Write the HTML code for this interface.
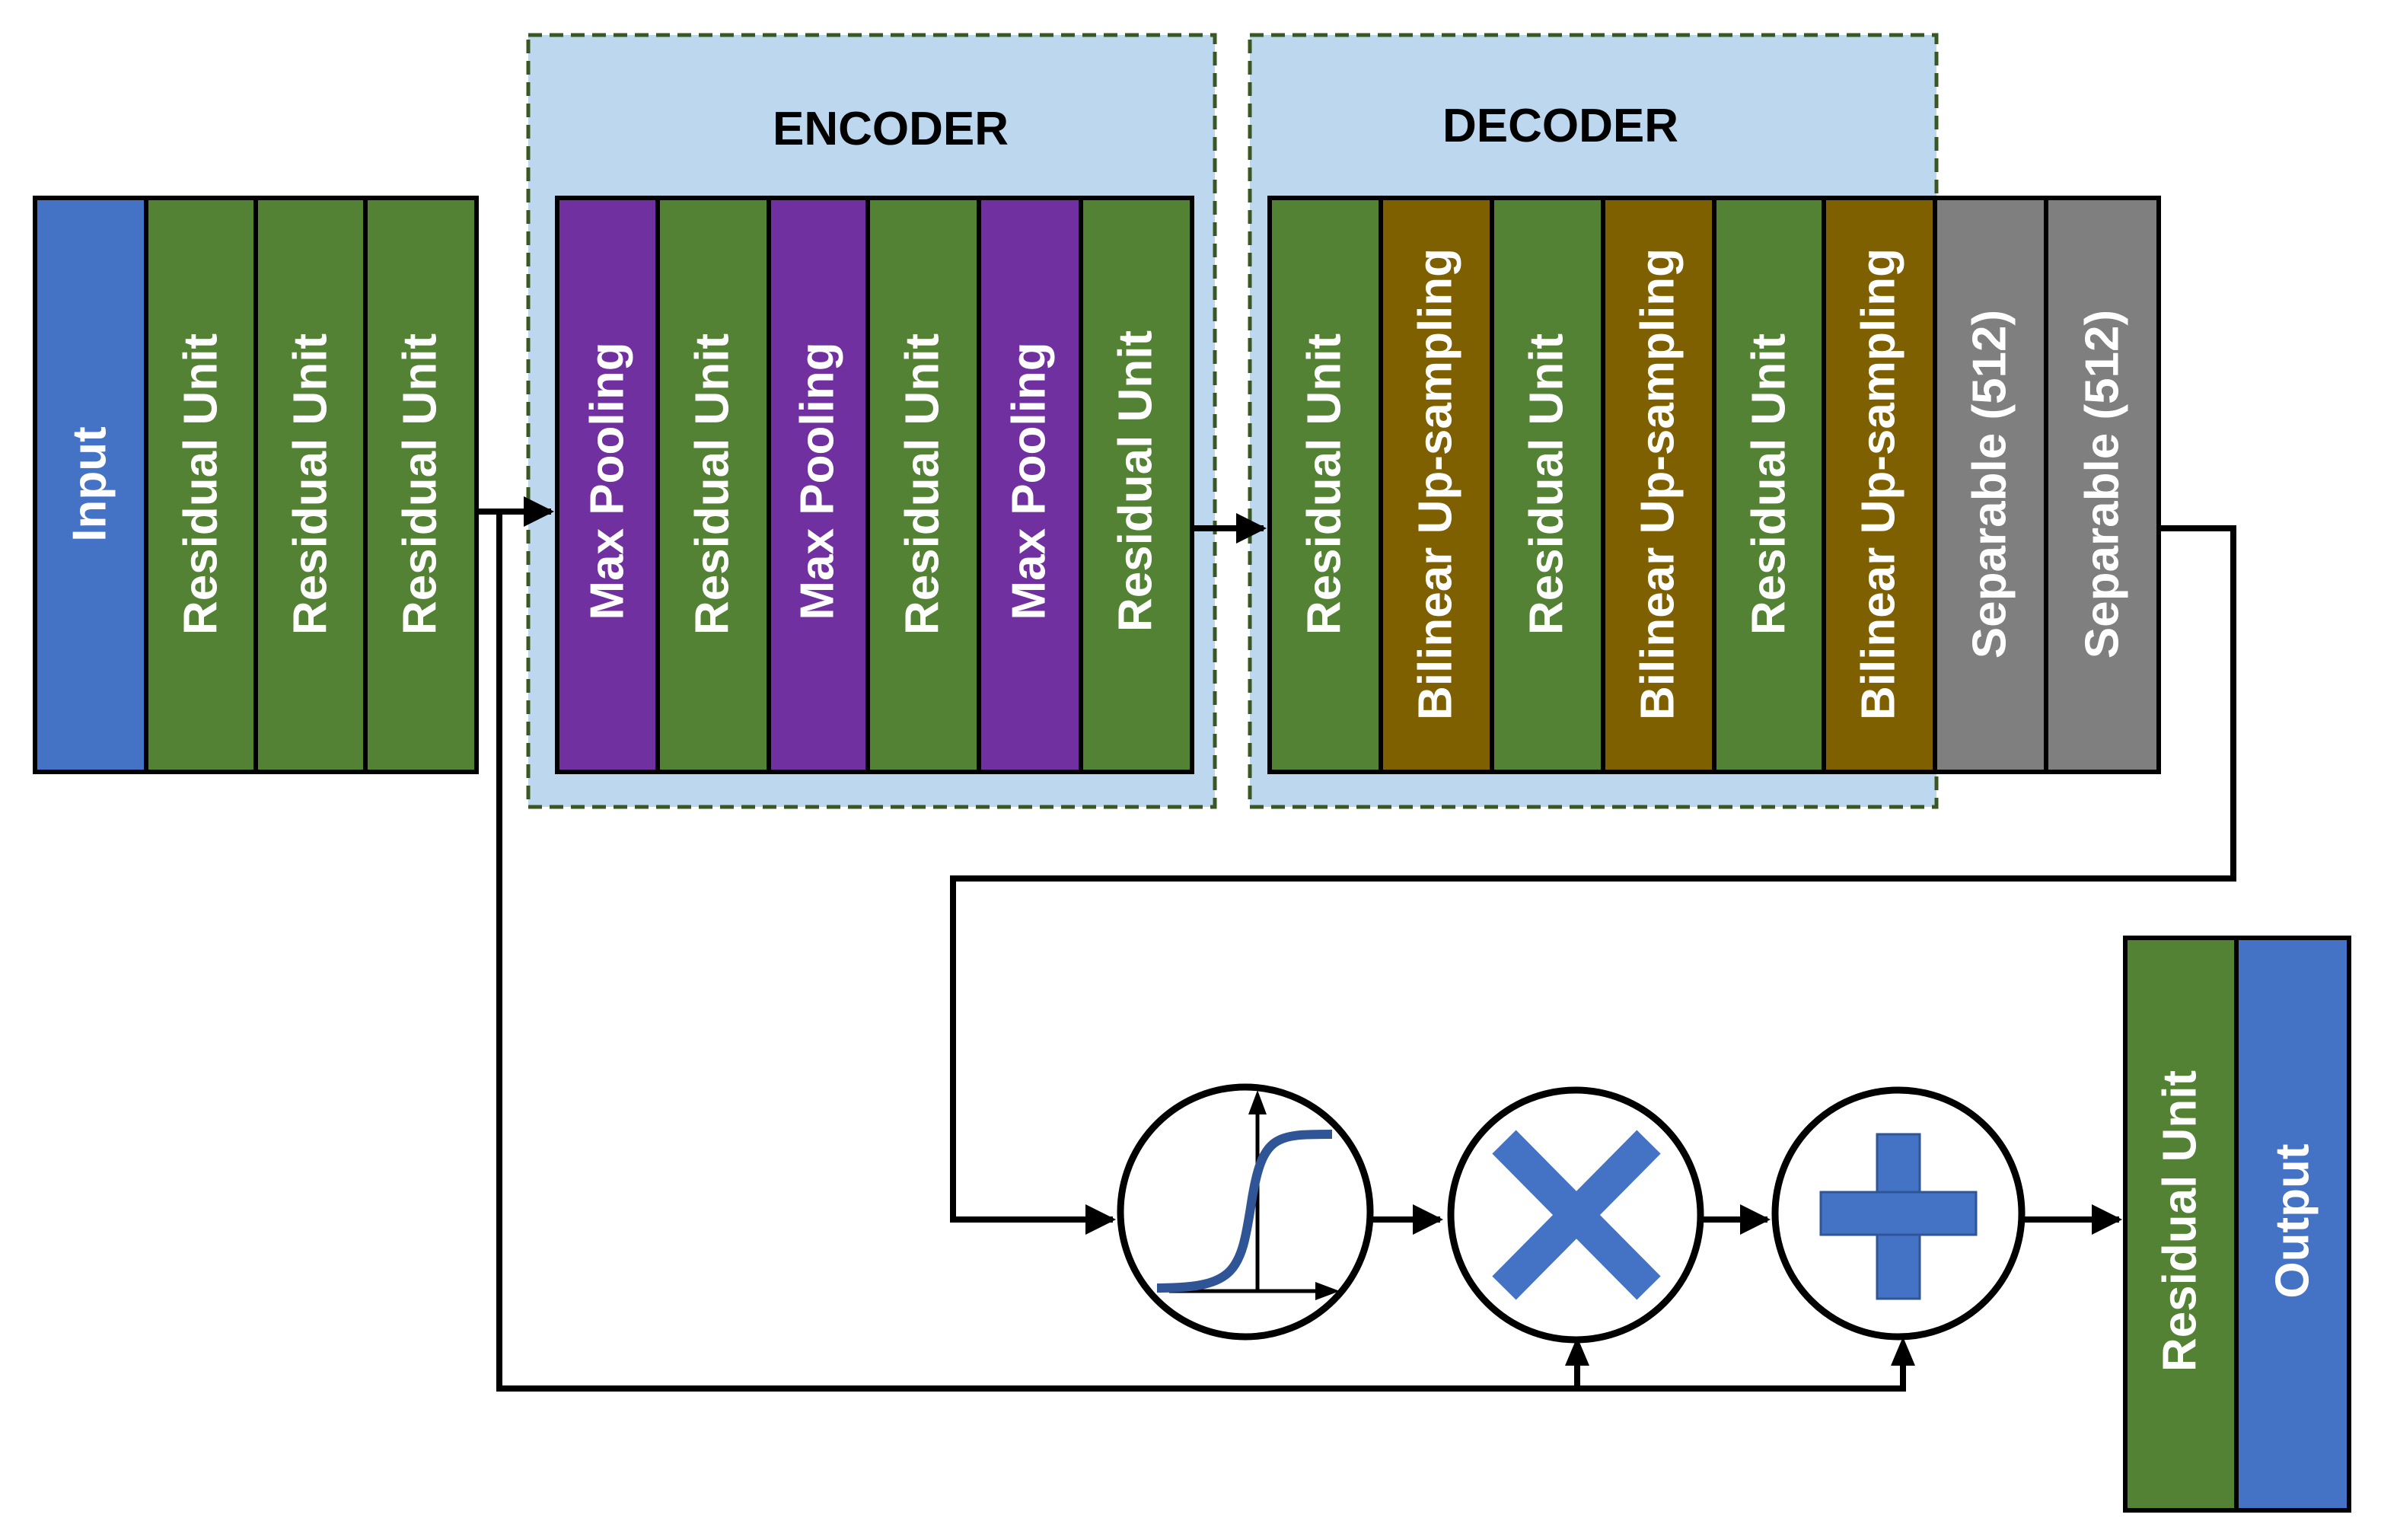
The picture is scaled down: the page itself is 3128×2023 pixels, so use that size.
<!DOCTYPE html>
<html><head><meta charset="utf-8"><style>html,body{margin:0;padding:0;background:#fff}svg{display:block}</style></head>
<body>
<svg width="3128" height="2023" viewBox="0 0 1564 1011.5" xmlns="http://www.w3.org/2000/svg" font-family="Liberation Sans, sans-serif" font-weight="bold">
<defs><marker id="ah" viewBox="0 0 10 10" refX="9" refY="5" markerWidth="5" markerHeight="5" orient="auto" markerUnits="strokeWidth"><path d="M0,0L10,5L0,10z" fill="#000"/></marker></defs>
<rect x="347" y="23" width="451" height="507" fill="#bdd7ee" stroke="#385723" stroke-width="2.5" stroke-dasharray="9,5"/>
<rect x="821" y="23" width="451" height="507" fill="#bdd7ee" stroke="#385723" stroke-width="2.5" stroke-dasharray="9,5"/>
<text x="585" y="95" font-size="31" text-anchor="middle" fill="#000">ENCODER</text>
<text x="1025" y="93" font-size="31" text-anchor="middle" fill="#000">DECODER</text>
<g stroke="#000" stroke-width="3">
<rect x="23" y="130" width="73" height="377" fill="#4472c4"/>
<rect x="96" y="130" width="72" height="377" fill="#548235"/>
<rect x="168" y="130" width="72" height="377" fill="#548235"/>
<rect x="240" y="130" width="73" height="377" fill="#548235"/>
<rect x="366" y="130" width="66" height="377" fill="#7030a0"/>
<rect x="432" y="130" width="73" height="377" fill="#548235"/>
<rect x="505" y="130" width="65" height="377" fill="#7030a0"/>
<rect x="570" y="130" width="73" height="377" fill="#548235"/>
<rect x="643" y="130" width="67" height="377" fill="#7030a0"/>
<rect x="710" y="130" width="73" height="377" fill="#548235"/>
<rect x="834" y="130" width="73" height="377" fill="#548235"/>
<rect x="907" y="130" width="73" height="377" fill="#7f6000"/>
<rect x="980" y="130" width="73" height="377" fill="#548235"/>
<rect x="1053" y="130" width="73" height="377" fill="#7f6000"/>
<rect x="1126" y="130" width="72" height="377" fill="#548235"/>
<rect x="1198" y="130" width="73" height="377" fill="#7f6000"/>
<rect x="1271" y="130" width="73" height="377" fill="#7f7f7f"/>
<rect x="1344" y="130" width="74" height="377" fill="#7f7f7f"/>
<rect x="1396" y="616" width="73" height="376" fill="#548235"/>
<rect x="1469" y="616" width="74" height="376" fill="#4472c4"/>
</g>
<g fill="#fff" font-size="31" text-anchor="middle" dominant-baseline="central">
<text transform="translate(59,318) rotate(-90)">Input</text>
<text transform="translate(132,318) rotate(-90)">Residual Unit</text>
<text transform="translate(204,318) rotate(-90)">Residual Unit</text>
<text transform="translate(276,318) rotate(-90)">Residual Unit</text>
<text transform="translate(399,316) rotate(-90)">Max Pooling</text>
<text transform="translate(468,318) rotate(-90)">Residual Unit</text>
<text transform="translate(537,316) rotate(-90)">Max Pooling</text>
<text transform="translate(606,318) rotate(-90)">Residual Unit</text>
<text transform="translate(676,316) rotate(-90)">Max Pooling</text>
<text transform="translate(746,316) rotate(-90)">Residual Unit</text>
<text transform="translate(870,318) rotate(-90)">Residual Unit</text>
<text transform="translate(943,318) rotate(-90)">Bilinear Up-sampling</text>
<text transform="translate(1016,318) rotate(-90)">Residual Unit</text>
<text transform="translate(1089,318) rotate(-90)">Bilinear Up-sampling</text>
<text transform="translate(1162,318) rotate(-90)">Residual Unit</text>
<text transform="translate(1234,318) rotate(-90)">Bilinear Up-sampling</text>
<text transform="translate(1307,318) rotate(-90)">Separable (512)</text>
<text transform="translate(1381,318) rotate(-90)">Separable (512)</text>
<text transform="translate(1432,802) rotate(-90)">Residual Unit</text>
<text transform="translate(1506,802) rotate(-90)">Output</text>
</g>
<g stroke="#000" stroke-width="4" fill="none">
<path d="M313,336H362" marker-end="url(#ah)"/>
<path d="M328,336V912H1250V883"/>
<path d="M1036,912V883"/>
<path d="M783,347H830" marker-end="url(#ah)"/>
<path d="M1418,347H1467V577H626V801H731" marker-end="url(#ah)"/>
<path d="M900,801H946" marker-end="url(#ah)"/>
<path d="M1117,801H1161" marker-end="url(#ah)"/>
<path d="M1330,801H1392" marker-end="url(#ah)"/>
</g>
<path d="M1036,878l-8,19h16z M1250,878l-8,19h16z" fill="#000"/>
<g stroke="#000" stroke-width="4.5" fill="#fff">
<circle cx="818" cy="796" r="82"/>
<circle cx="1035" cy="798" r="82"/>
<circle cx="1247" cy="797" r="81"/>
</g>
<g stroke="#000" stroke-width="2.5">
<path d="M826,848V728"/><path d="M768,848H868"/>
</g>
<path d="M826,716l-6,16h12z M880,848l-16,-6v12z" fill="#000"/>
<path d="M760,846C812,846 815,835 822,790S838,745 875,745" stroke="#2f5597" stroke-width="6" fill="none"/>
<g stroke="#4472c4" stroke-width="22" stroke-linecap="butt">
<path d="M988,750L1083,846"/><path d="M1083,750L988,846"/>
</g>
<g fill="#4472c4" stroke="#2f5597" stroke-width="1.5">
<rect x="1233" y="745" width="28" height="108"/>
<rect x="1196" y="783" width="102" height="28"/>
<rect x="1234" y="784" width="26" height="26" stroke="none"/>
</g>
</svg>
</body></html>
